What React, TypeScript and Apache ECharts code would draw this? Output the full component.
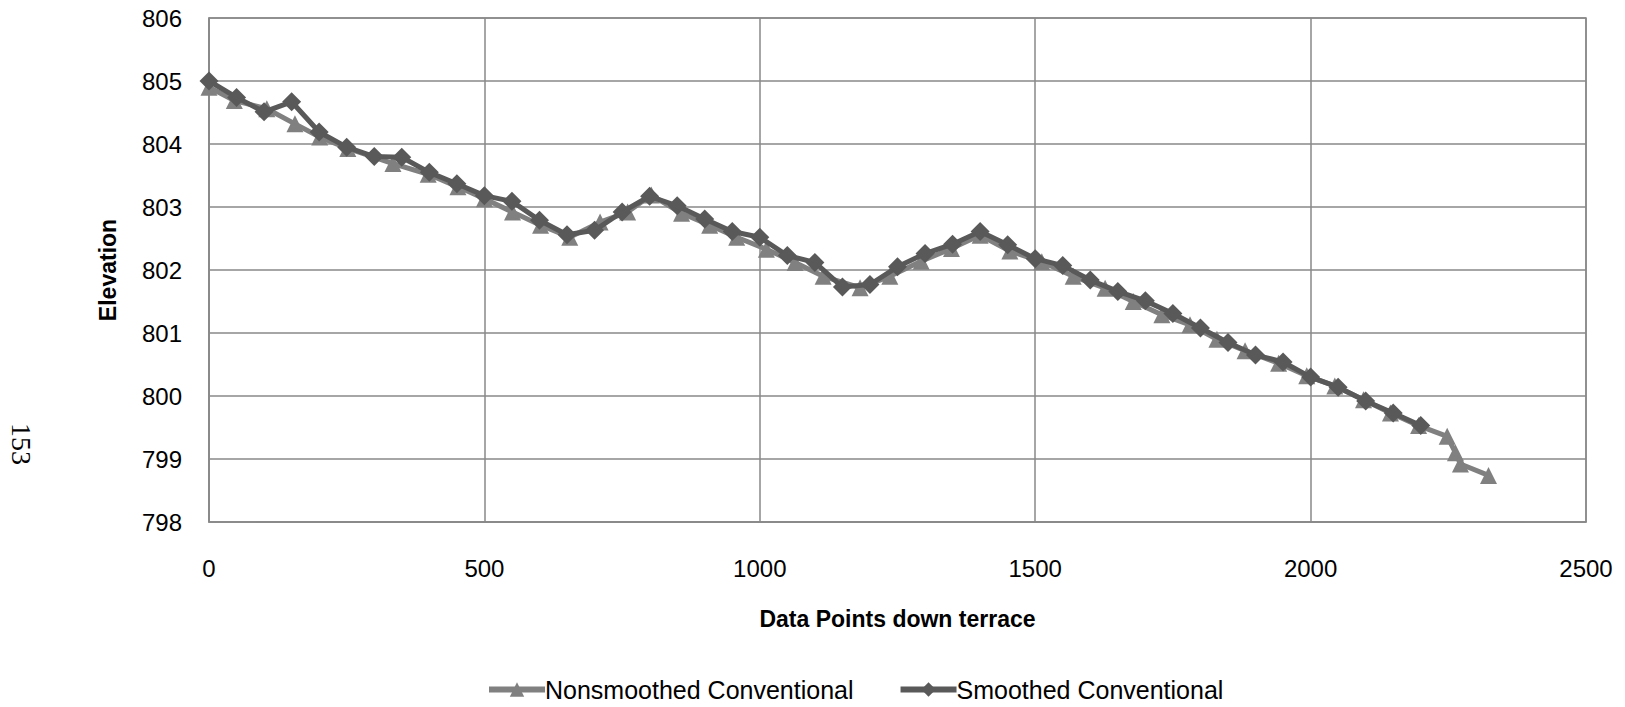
import React, { useEffect, useRef } from "react";
import * as echarts from "echarts";

const nonsmoothedX = [0, 46, 105, 156, 201, 252, 334, 398, 452, 500, 551, 602, 655, 710, 760, 803, 858, 909, 958, 1012, 1064, 1115, 1182, 1236, 1293, 1348, 1400, 1454, 1512, 1569, 1627, 1678, 1730, 1781, 1830, 1881, 1942, 1993, 2044, 2096, 2145, 2196, 2248, 2263, 2272, 2323];
const nonsmoothedY = [804.9, 804.69, 804.56, 804.32, 804.11, 803.93, 803.69, 803.52, 803.32, 803.13, 802.92, 802.71, 802.52, 802.76, 802.92, 803.19, 802.9, 802.71, 802.52, 802.33, 802.12, 801.9, 801.72, 801.9, 802.14, 802.34, 802.55, 802.3, 802.13, 801.9, 801.71, 801.5, 801.29, 801.13, 800.9, 800.72, 800.52, 800.32, 800.16, 799.94, 799.73, 799.53, 799.36, 799.1, 798.92, 798.74];

const smoothedX = [0, 50, 100, 150, 200, 250, 300, 350, 400, 450, 500, 550, 600, 650, 700, 750, 800, 850, 900, 950, 1000, 1050, 1100, 1150, 1200, 1250, 1300, 1350, 1400, 1450, 1500, 1550, 1600, 1650, 1700, 1750, 1800, 1850, 1900, 1950, 2000, 2050, 2100, 2150, 2200];
const smoothedY = [805.0, 804.74, 804.51, 804.67, 804.19, 803.95, 803.8, 803.79, 803.55, 803.37, 803.18, 803.09, 802.79, 802.56, 802.63, 802.92, 803.17, 803.02, 802.81, 802.61, 802.52, 802.23, 802.12, 801.73, 801.77, 802.05, 802.26, 802.41, 802.61, 802.4, 802.18, 802.07, 801.84, 801.66, 801.51, 801.31, 801.08, 800.85, 800.65, 800.54, 800.3, 800.14, 799.92, 799.73, 799.53];

const seriesNames = ["Nonsmoothed Conventional", "Smoothed Conventional"];
const xAxisTitle = "Data Points down terrace";
const yAxisTitle = "Elevation";
const pageNumber = "153";

const FONT = "'Liberation Sans', Arial, sans-serif";

export default function App() {
  const ref = useRef<HTMLDivElement>(null);
  useEffect(() => {
    document.body.style.margin = "0";
    if (!ref.current) return;
    const chart = echarts.init(ref.current, null, { renderer: "svg" });
    const grid = "#898989";
    chart.setOption({
      animation: false,
      backgroundColor: "#ffffff",
      textStyle: { fontFamily: FONT, color: "#000" },
      grid: {
        left: 209,
        right: 39,
        top: 18,
        bottom: 185,
        show: true,
        borderColor: grid,
        borderWidth: 1.5,
        outerBoundsMode: "none",
      },
      xAxis: {
        type: "value",
        min: 0,
        max: 2500,
        interval: 500,
        name: xAxisTitle,
        nameLocation: "middle",
        nameGap: 85,
        nameTextStyle: { fontFamily: FONT, fontSize: 23, fontWeight: "bold", color: "#000" },
        axisLine: { show: true, lineStyle: { color: grid, width: 1.5 } },
        axisTick: { show: false },
        axisLabel: {
          fontFamily: FONT,
          fontSize: 24,
          color: "#000",
          margin: 34,
          formatter: (v: number) => String(v),
        },
        splitLine: { show: true, lineStyle: { color: grid, width: 1.5 } },
      },
      yAxis: {
        type: "value",
        min: 798,
        max: 806,
        interval: 1,
        name: yAxisTitle,
        nameLocation: "middle",
        nameGap: 90,
        nameTextStyle: { fontFamily: FONT, fontSize: 23, fontWeight: "bold", color: "#000" },
        axisLine: { show: true, lineStyle: { color: grid, width: 1.5 } },
        axisTick: { show: false },
        axisLabel: {
          fontFamily: FONT,
          fontSize: 24,
          color: "#000",
          margin: 27,
          formatter: (v: number) => String(v),
        },
        splitLine: { show: true, lineStyle: { color: grid, width: 1.5 } },
      },
      legend: {
        left: 481,
        top: 672,
        itemWidth: 56,
        itemHeight: 18,
        itemGap: 44,
        lineStyle: { width: 6 },
        textStyle: { fontFamily: FONT, fontSize: 25, color: "#000", padding: [0, 0, 0, -5] },
        data: seriesNames,
      },
      graphic: [
        {
          type: "text",
          x: 21,
          y: 444,
          rotation: -Math.PI / 2,
          style: {
            text: pageNumber,
            fontFamily: "'Liberation Serif', 'Times New Roman', serif",
            fontSize: 28,
            fill: "#000",
            align: "center",
            verticalAlign: "middle",
          },
        },
      ],
      series: [
        {
          name: seriesNames[0],
          type: "line",
          data: nonsmoothedX.map((x, i) => [x, nonsmoothedY[i]]),
          symbol: "triangle",
          symbolSize: 17,
          showAllSymbol: true,
          itemStyle: { color: "#808080" },
          lineStyle: { color: "#808080", width: 5 },
          z: 2,
        },
        {
          name: seriesNames[1],
          type: "line",
          data: smoothedX.map((x, i) => [x, smoothedY[i]]),
          symbol: "diamond",
          symbolSize: 19,
          showAllSymbol: true,
          itemStyle: { color: "#595959" },
          lineStyle: { color: "#595959", width: 5 },
          z: 3,
        },
      ],
    });
    return () => chart.dispose();
  }, []);
  return <div ref={ref} style={{ width: 1625, height: 707 }} />;
}
